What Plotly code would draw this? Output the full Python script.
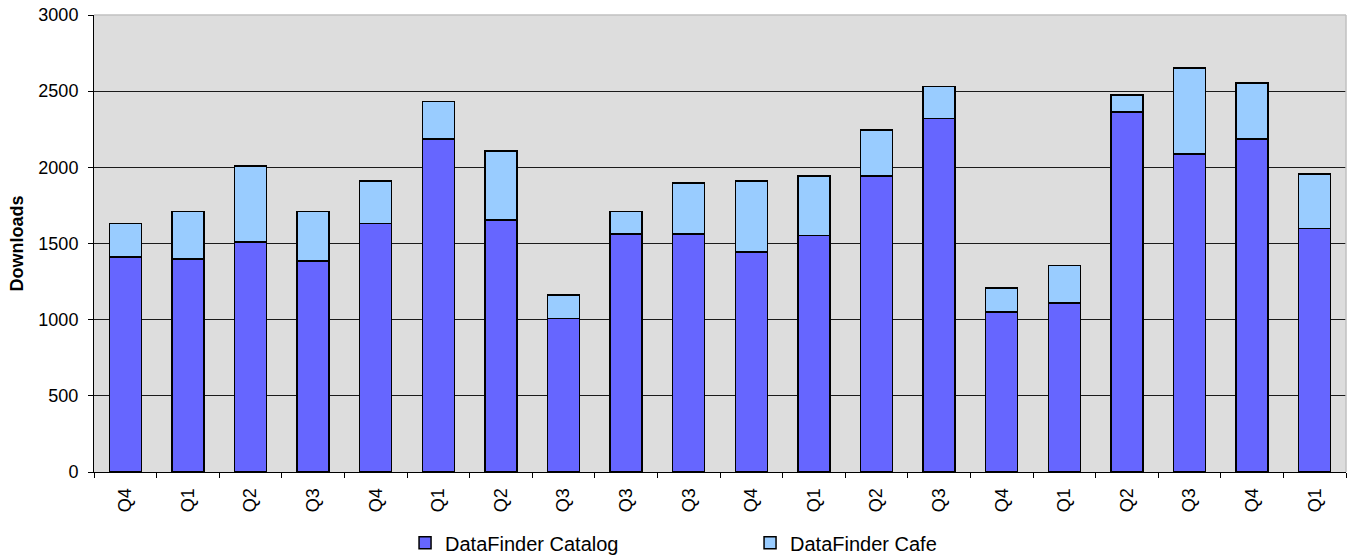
import plotly.graph_objects as go

quarters = ["Q4", "Q1", "Q2", "Q3", "Q4", "Q1", "Q2", "Q3", "Q3", "Q3",
            "Q4", "Q1", "Q2", "Q3", "Q4", "Q1", "Q2", "Q3", "Q4", "Q1"]
catalog = [1410, 1397, 1509, 1386, 1631, 2187, 1653, 1008, 1563, 1563,
           1443, 1553, 1942, 2322, 1052, 1109, 2362, 2086, 2187, 1599]
cafe = [221, 313, 501, 324, 278, 245, 455, 155, 147, 333,
        466, 389, 302, 208, 157, 245, 113, 567, 367, 356]
y_ticks = [0, 500, 1000, 1500, 2000, 2500, 3000]

positions = list(range(len(quarters)))
FONT = "Liberation Sans, Arial, sans-serif"

fig = go.Figure()
fig.add_trace(go.Bar(x=positions, y=catalog, name="DataFinder Catalog",
                     marker=dict(color="#6666FF", line=dict(color="#000000", width=1.5))))
fig.add_trace(go.Bar(x=positions, y=cafe, name="DataFinder Cafe",
                     marker=dict(color="#99CCFF", line=dict(color="#000000", width=1.5))))

fig.update_layout(
    barmode="stack",
    bargap=0.49,
    width=1355, height=558,
    margin=dict(l=94, r=9, t=15, b=86, autoexpand=False),
    paper_bgcolor="#FFFFFF",
    plot_bgcolor="#DDDDDD",
    font=dict(family=FONT, size=18, color="#000000"),
    showlegend=True,
    legend=dict(orientation="h", x=0.524, xanchor="center", y=-0.155, yanchor="middle",
                font=dict(size=20, family=FONT), traceorder="normal",
                entrywidth=300, bgcolor="rgba(0,0,0,0)"),
    xaxis=dict(
        range=[-0.5, len(quarters) - 0.5],
        tickmode="array", tickvals=positions, ticktext=quarters,
        tickangle=-90, ticks="outside", ticklen=8, tickcolor="rgba(0,0,0,0)",
        tickfont=dict(size=18),
        showline=True, linecolor="#000000", linewidth=1,
        showgrid=False, zeroline=False,
        minor=dict(tick0=-0.5, dtick=1, ticks="outside", ticklen=5,
                   tickcolor="#000000", tickwidth=1, showgrid=False),
    ),
    yaxis=dict(
        range=[0, 3000],
        tickmode="array", tickvals=y_ticks,
        ticks="outside", ticklen=5, tickcolor="#000000", tickwidth=1,
        ticklabelstandoff=6,
        tickfont=dict(size=18),
        showline=True, linecolor="#000000", linewidth=1,
        showgrid=True, gridcolor="#1a1a1a", gridwidth=1,
        zeroline=False,
        title=dict(text="<b>Downloads</b>", font=dict(size=18), standoff=10),
    ),
    shapes=[
        dict(type="line", xref="paper", yref="paper", x0=0, x1=1, y0=1, y1=1,
             line=dict(color="#C0C0C0", width=1.5), layer="above"),
        dict(type="line", xref="paper", yref="paper", x0=1, x1=1, y0=0, y1=1,
             line=dict(color="#C0C0C0", width=1.5), layer="above"),
    ],
)

fig.write_html("out.html", post_script="document.body.style.margin='0';",
               config={"displayModeBar": False})
